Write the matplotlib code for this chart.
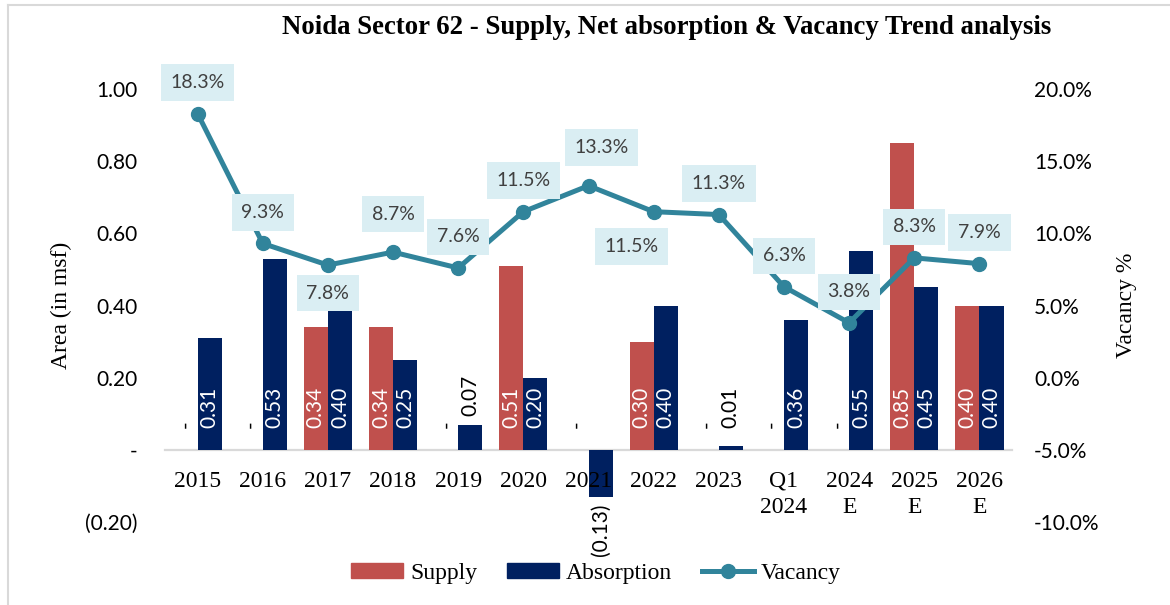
import matplotlib
matplotlib.use("Agg")
import matplotlib.pyplot as plt
from matplotlib.lines import Line2D
from matplotlib.patches import Patch
import numpy as np

# ---- data -------------------------------------------------------------
categories = ["2015", "2016", "2017", "2018", "2019", "2020", "2021",
              "2022", "2023", "Q1\n2024", "2024\nE", "2025\nE", "2026\nE"]
supply = [0.00, 0.00, 0.34, 0.34, 0.00, 0.51, 0.00, 0.30, 0.00, 0.00, 0.00, 0.85, 0.40]
absorption = [0.31, 0.53, 0.40, 0.25, 0.07, 0.20, -0.13, 0.40, 0.01, 0.36, 0.55, 0.45, 0.40]
vacancy = [18.3, 9.3, 7.8, 8.7, 7.6, 11.5, 13.3, 11.5, 11.3, 6.3, 3.8, 8.3, 7.9]

left_ticks = [-0.20, 0.0, 0.20, 0.40, 0.60, 0.80, 1.00]
right_ticks = [-10, -5, 0, 5, 10, 15, 20]

# ---- style ------------------------------------------------------------
RED = "#C0504D"
NAVY = "#002060"
TEAL = "#31849B"
BOX = "#DAEEF3"
SERIF = "Liberation Serif"
SANS = "Lato"

# vacancy label offsets in pixels (dx, dy), screen-down positive dy
vac_offsets = {2: (0, 28), 6: (13, -38), 7: (-22, 35), 3: (0, -38)}
DEFAULT_OFF = (0, -31)

fig = plt.figure(figsize=(11.7, 6.05), dpi=100)
ax = fig.add_axes([165 / 1170, 1 - 522 / 605, (1012 - 165) / 1170, (522 - 89) / 605])
ax2 = ax.twinx()

x = np.arange(len(categories))
w = 0.37

ax.bar(x - w / 2, supply, width=w, color=RED, zorder=2)
ax.bar(x + w / 2, absorption, width=w, color=NAVY, zorder=2)

ax.set_xlim(-0.5, len(categories) - 0.5)
ax.set_ylim(-0.20, 1.00)
ax.set_yticks(left_ticks)


def fmt_left(v):
    if abs(v) < 1e-9:
        return "-"
    if v < 0:
        return f"({abs(v):.2f})"
    return f"{v:.2f}"


ax.set_yticklabels([fmt_left(v) for v in left_ticks], fontfamily=SANS, fontsize=15)
ax.tick_params(axis="y", length=0, pad=20)

for s in ["top", "right", "left"]:
    ax.spines[s].set_visible(False)
ax.spines["bottom"].set_position(("data", 0))
ax.spines["bottom"].set_color("#D9D9D9")
ax.spines["bottom"].set_linewidth(1.6)
ax.spines["bottom"].set_zorder(1)
ax.set_xticks(x)
ax.set_xticklabels(categories, fontfamily=SERIF, fontsize=17, linespacing=1.35)
ax.tick_params(axis="x", length=0, pad=15)
ax.xaxis.set_zorder(3)

ax.set_ylabel("Area (in msf)", fontfamily=SERIF, fontsize=17, labelpad=9)

LBL = 15


# bar value labels
def bar_label(xc, v):
    if abs(v) < 1e-9:
        ax.text(xc, 0.06, "-", rotation=90, ha="center", va="bottom",
                fontfamily=SANS, fontsize=LBL, color="black", zorder=4)
    elif v < 0:
        ax.text(xc, v - 0.02, f"({abs(v):.2f})", rotation=90, ha="center", va="top",
                fontfamily=SANS, fontsize=LBL, color="black", zorder=4)
    elif v < 0.1:
        ax.text(xc, max(0.06, v + 0.025), f"{v:.2f}", rotation=90, ha="center",
                va="bottom", fontfamily=SANS, fontsize=LBL, color="black", zorder=4)
    else:
        ax.text(xc, 0.06, f"{v:.2f}", rotation=90, ha="center", va="bottom",
                fontfamily=SANS, fontsize=LBL, color="white", zorder=4)


for i in range(len(categories)):
    bar_label(x[i] - w / 2, supply[i])
    bar_label(x[i] + w / 2, absorption[i])

# vacancy line on the secondary axis
ax2.plot(x, vacancy, color=TEAL, lw=3.6, marker="o", ms=10, zorder=5)
ax2.set_ylim(-10, 20)
ax2.set_yticks(right_ticks)
ax2.set_yticklabels([f"{v:.1f}%" for v in right_ticks], fontfamily=SANS, fontsize=15)
ax2.tick_params(axis="y", length=0, pad=16)
for s in ax2.spines.values():
    s.set_visible(False)
ax2.set_ylabel("Vacancy %", fontfamily=SERIF, fontsize=17, labelpad=12)

for i, v in enumerate(vacancy):
    dx, dy = vac_offsets.get(i, DEFAULT_OFF)
    ax2.annotate(f"{v:.1f}%", xy=(x[i], v), xytext=(dx * 0.72, -dy * 0.72),
                 textcoords="offset points", ha="center", va="center",
                 fontfamily=SANS, fontsize=14, color="#404040", zorder=6,
                 bbox=dict(boxstyle="square,pad=0.5", fc=BOX, ec="none"))

fig.suptitle("Noida Sector 62 - Supply, Net absorption & Vacancy Trend analysis",
             x=667 / 1170, y=1 - 28 / 605, va="center", fontfamily=SERIF,
             fontweight="bold", fontsize=19.3)

handles = [Patch(color=RED), Patch(color=NAVY),
           Line2D([0], [0], color=TEAL, lw=3.6, marker="o", ms=10)]
fig.legend(handles, ["Supply", "Absorption", "Vacancy"], loc="center",
           bbox_to_anchor=(596 / 1170, 1 - 573 / 605), ncol=3, frameon=False,
           prop={"family": SERIF, "size": 17}, handlelength=2.2, handletextpad=0.3,
           columnspacing=1.25, handleheight=0.6)

# frame lines around the chart
fig.add_artist(Line2D([8 / 1170, 8 / 1170], [0, 1 - 5 / 605], color="#D9D9D9", lw=1.5,
                      transform=fig.transFigure))
fig.add_artist(Line2D([8 / 1170, 1169 / 1170], [1 - 5 / 605, 1 - 5 / 605], color="#D9D9D9",
                      lw=1.5, transform=fig.transFigure))

fig.savefig("out.png", dpi=100)
